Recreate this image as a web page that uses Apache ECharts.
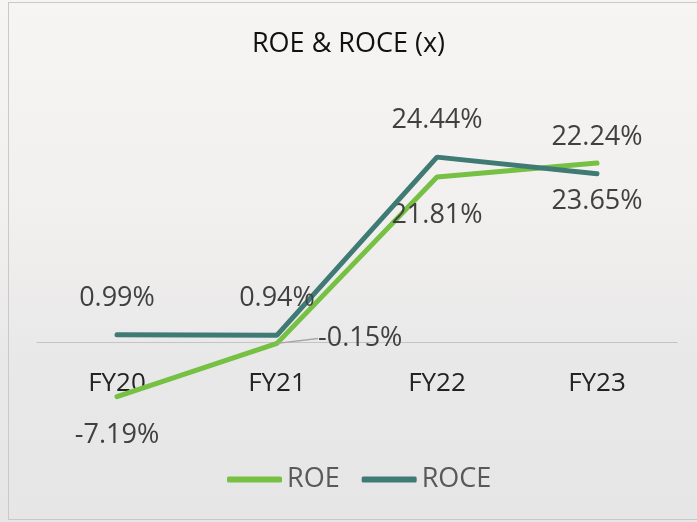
<!DOCTYPE html>
<html lang="en">
<head>
    <meta charset="UTF-8">
    <title>ROE & ROCE</title>
    <script type="text/javascript" src="https://cdn.jsdelivr.net/npm/echarts@6/dist/echarts.min.js"></script>
    <style>
        html, body { margin: 0; padding: 0; }
        #wrap {
            width: 697px; height: 522px; position: relative; overflow: hidden;
            background: linear-gradient(180deg, #f6f5f4 0%, #f1f0ef 40%, #e9e8e8 70%, #e6e6e6 100%);
        }
        #frame {
            position: absolute; left: 8px; top: 2px; width: 700px; height: 516px;
            border: 1px solid #c9c9c9;
        }
        #container { position: absolute; left: 0; top: 0; width: 697px; height: 522px; }
    </style>
</head>
<body>
<div id="wrap">
    <div id="frame"></div>
    <div id="container"></div>
</div>
<script type="text/javascript">
    var years = ['FY20', 'FY21', 'FY22', 'FY23'];
    var roe = [-7.19, -0.15, 21.81, 23.65];
    var roce = [0.99, 0.94, 24.44, 22.24];

    var myChart = echarts.init(document.getElementById('container'), null, { renderer: 'canvas' });
    var font = 'Open Sans';
    var pct = function (p) { return p.value.toFixed(2) + '%'; };

    // only the FY21 ROE label gets moved aside with a leader line
    var roeData = roe.map(function (v, i) {
        return { value: v, labelLine: { show: i === 1 } };
    });

    var option = {
        animation: false,
        title: {
            text: 'ROE & ROCE (x)',
            left: 'center',
            top: 26,
            textStyle: { fontFamily: font, fontSize: 27, fontWeight: 'normal', color: '#111' }
        },
        legend: {
            top: 461,
            left: 222,
            itemWidth: 55,
            itemHeight: 6,
            itemGap: 22,
            icon: 'roundRect',
            textStyle: { fontFamily: font, fontSize: 27, color: '#595959' },
            data: ['ROE', 'ROCE']
        },
        grid: { left: 37, right: 20, top: 115, height: 303 },
        xAxis: {
            type: 'category',
            data: years,
            axisLine: { onZero: true, lineStyle: { color: '#c4c4c4', width: 1 } },
            axisTick: { show: false },
            axisLabel: { fontFamily: font, fontSize: 26, color: '#222', margin: -47 }
        },
        yAxis: {
            type: 'value',
            min: -10,
            max: 30,
            show: false,
            splitLine: { show: false }
        },
        series: [
            {
                name: 'ROE',
                type: 'line',
                data: roeData,
                symbol: 'circle',
                symbolSize: 0.1,
                color: '#76c043',
                lineStyle: { width: 5, cap: 'round' },
                label: {
                    show: true,
                    position: 'bottom',
                    distance: 25,
                    fontFamily: font,
                    fontSize: 27,
                    color: '#404040',
                    formatter: pct
                },
                labelLine: { lineStyle: { color: '#a6a6a6', width: 1.5 } },
                labelLayout: function (p) {
                    if (p.dataIndex === 1) {
                        var r = p.labelRect;
                        return { x: r.x + r.width / 2 + 41, y: r.y - 30, align: 'left', verticalAlign: 'middle' };
                    }
                    return {};
                },
                z: 2
            },
            {
                name: 'ROCE',
                type: 'line',
                data: roce,
                symbol: 'circle',
                symbolSize: 0.1,
                color: '#3f7a74',
                lineStyle: { width: 5, cap: 'round' },
                label: {
                    show: true,
                    position: 'top',
                    distance: 23,
                    fontFamily: font,
                    fontSize: 27,
                    color: '#404040',
                    formatter: pct
                },
                z: 3
            }
        ]
    };

    myChart.setOption(option);
    window.addEventListener('resize', myChart.resize);
</script>
</body>
</html>
